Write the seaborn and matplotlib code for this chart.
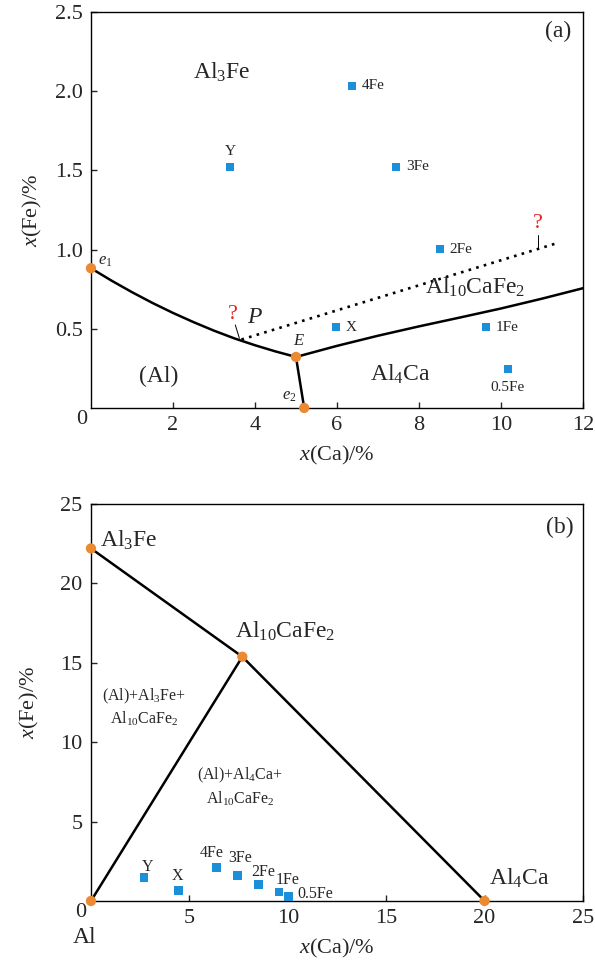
import matplotlib
matplotlib.use('Agg')
import matplotlib.pyplot as plt
import seaborn as sns

# ---- panel (a): liquidus projection near the Al corner ----
liq_e1E_ca = [0.0, 0.5, 1.0, 1.5, 2.0, 2.5, 3.0, 3.5, 4.0, 4.5, 5.0]
liq_e1E_fe = [0.882, 0.804, 0.731, 0.663, 0.600, 0.542, 0.488, 0.439, 0.396, 0.357, 0.322]
liq_Ee2_ca = [5.0, 5.2]
liq_Ee2_fe = [0.322, 0.0]
liq_E_right_ca = [5.0, 6.0, 7.0, 8.0, 9.0, 10.0, 11.0, 12.0]
liq_E_right_fe = [0.322, 0.392, 0.456, 0.515, 0.571, 0.628, 0.690, 0.756]
dotted_ca = [3.67, 11.36]
dotted_fe = [0.432, 1.04]
special_a = ['e1', 'E', 'e2']
special_a_ca = [0.0, 5.0, 5.2]
special_a_fe = [0.882, 0.322, 0.0]

alloys_a = ['Y', '4Fe', '3Fe', '2Fe', 'X', '1Fe', '0.5Fe']
alloys_a_ca = [3.39, 6.37, 7.44, 8.51, 5.98, 9.63, 10.17]
alloys_a_fe = [1.523, 2.033, 1.523, 1.002, 0.509, 0.509, 0.246]

# ---- panel (b): Al-rich corner of Al-Ca-Fe ----
phases_b = ['Al', 'Al3Fe', 'Al10CaFe2', 'Al4Ca']
phases_b_ca = [0.0, 0.0, 7.69, 20.0]
phases_b_fe = [0.0, 22.2, 15.38, 0.0]
tie1_ca = [0.0, 7.69, 20.0]     # Al3Fe - Al10CaFe2 - Al4Ca
tie1_fe = [22.2, 15.38, 0.0]
tie2_ca = [0.0, 7.69]           # Al - Al10CaFe2
tie2_fe = [0.0, 15.38]

alloys_b = ['Y', 'X', '4Fe', '3Fe', '2Fe', '1Fe', '0.5Fe']
alloys_b_ca = [2.69, 4.44, 6.39, 7.45, 8.50, 9.55, 10.04]
alloys_b_fe = [1.49, 0.65, 2.09, 1.59, 1.03, 0.57, 0.27]

xticks_a = [2, 4, 6, 8, 10, 12]
yticks_a = [0.5, 1.0, 1.5, 2.0, 2.5]
xticks_b = [5, 10, 15, 20, 25]
yticks_b = [5, 10, 15, 20, 25]

BLUE = '#1b8fd9'
ORANGE = '#ec8a32'
RED = '#e8231d'

sns.set_style('ticks')
plt.rcParams['font.family'] = ['Liberation Serif', 'DejaVu Serif']
plt.rcParams['mathtext.fontset'] = 'custom'
plt.rcParams['mathtext.rm'] = 'Liberation Serif'
plt.rcParams['mathtext.it'] = 'Liberation Serif:italic'
plt.rcParams['axes.linewidth'] = 1.0
plt.rcParams['axes.edgecolor'] = 'black'

fig = plt.figure(figsize=(5.95, 9.64), dpi=100)
ax1 = fig.add_axes([0.1529, 0.5768, 0.8269, 0.4108])
ax2 = fig.add_axes([0.1529, 0.0654, 0.8269, 0.4118])


def line(ax, xs, ys, **kw):
    sns.lineplot(x=xs, y=ys, ax=ax, sort=False, estimator=None,
                 color='black', legend=False, **kw)


# ---------------- panel (a) ----------------
line(ax1, liq_e1E_ca, liq_e1E_fe, linewidth=1.8)
line(ax1, liq_Ee2_ca, liq_Ee2_fe, linewidth=1.8)
line(ax1, liq_E_right_ca, liq_E_right_fe, linewidth=1.8)
ax1.plot(dotted_ca, dotted_fe, color='black', linestyle=(0, (1, 2.0)), linewidth=1.9)

sns.scatterplot(x=special_a_ca, y=special_a_fe, ax=ax1, color=ORANGE, s=55,
                edgecolor='none', zorder=5, clip_on=False)
sns.scatterplot(x=alloys_a_ca, y=alloys_a_fe, ax=ax1, color=BLUE, marker='s', s=32,
                edgecolor='none', zorder=5)

lab_a = {'Y': (0, 11, 'center'), '4Fe': (7, 0, 'left'), '3Fe': (7, 0, 'left'),
         '2Fe': (7, 0, 'left'), 'X': (7, 0, 'left'), '1Fe': (7, 0, 'left'),
         '0.5Fe': (0, -13, 'center')}
for name, cx, fy in zip(alloys_a, alloys_a_ca, alloys_a_fe):
    dx, dy, ha = lab_a[name]
    ax1.annotate(name, (cx, fy), xytext=(dx, dy), textcoords='offset points',
                 ha=ha, va='center', fontsize=11)

ax1.text(0.34, 0.925, '$e_1$', fontsize=12, ha='center', va='center')
ax1.text(5.07, 0.42, '$E$', fontsize=12, ha='center', va='center')
ax1.text(4.83, 0.076, '$e_2$', fontsize=12, ha='center', va='center')
ax1.text(4.0, 0.57, '$P$', fontsize=17, ha='center', va='center')

ax1.text(3.47, 0.59, '?', color=RED, fontsize=16, ha='center', va='center')
ax1.plot([3.52, 3.62], [0.524, 0.44], color='black', linewidth=0.7)
ax1.text(10.91, 1.166, '?', color=RED, fontsize=16, ha='center', va='center')
ax1.plot([10.91, 10.91], [1.092, 1.005], color='black', linewidth=0.7)

ax1.text(3.2, 2.12, 'Al$_3$Fe', fontsize=17, ha='center', va='center')
ax1.text(1.64, 0.20, '(Al)', fontsize=17, ha='center', va='center')
ax1.text(7.54, 0.21, 'Al$_4$Ca', fontsize=17, ha='center', va='center')
ax1.text(9.37, 0.76, 'Al$_{10}$CaFe$_2$', fontsize=17, ha='center', va='center')
ax1.text(11.4, 2.38, '(a)', fontsize=17, ha='center', va='center')

ax1.set_xlim(0, 12)
ax1.set_ylim(0, 2.5)
ax1.set_xticks(xticks_a)
ax1.set_yticks(yticks_a)
ax1.set_yticklabels([f'{v:.1f}' for v in yticks_a])
ax1.annotate('0', (0, 0), xytext=(-7, -8), textcoords='offset points',
             ha='center', va='center', fontsize=16, annotation_clip=False)
ax1.set_xlabel('$x$(Ca)/%', fontsize=16, labelpad=6)
ax1.set_ylabel('$x$(Fe)/%', fontsize=16, labelpad=8)

# ---------------- panel (b) ----------------
line(ax2, tie1_ca, tie1_fe, linewidth=1.8)
line(ax2, tie2_ca, tie2_fe, linewidth=1.8)
sns.scatterplot(x=phases_b_ca, y=phases_b_fe, ax=ax2, color=ORANGE, s=55,
                edgecolor='none', zorder=5, clip_on=False)
sns.scatterplot(x=alloys_b_ca, y=alloys_b_fe, ax=ax2, color=BLUE, marker='s', s=40,
                edgecolor='none', zorder=5)

lab_b = {'Y': (2.9, 7.6), 'X': (-1, 10.6), '4Fe': (-3.6, 10.4), '3Fe': (1.7, 12.5),
         '2Fe': (3.6, 9.4), '1Fe': (6.2, 8.6), '0.5Fe': (19.5, 1.8)}
for name, cx, fy in zip(alloys_b, alloys_b_ca, alloys_b_fe):
    dx, dy = lab_b[name]
    ax2.annotate(name, (cx, fy), xytext=(dx, dy), textcoords='offset points',
                 ha='center', va='center', fontsize=11.5)

ax2.text(1.9, 22.7, 'Al$_3$Fe', fontsize=17, ha='center', va='center')
ax2.text(9.86, 17.0, 'Al$_{10}$CaFe$_2$', fontsize=17, ha='center', va='center')
ax2.text(21.76, 1.42, 'Al$_4$Ca', fontsize=17, ha='center', va='center')
ax2.text(2.69, 12.2, '(Al)+Al$_3$Fe+\nAl$_{10}$CaFe$_2$', fontsize=11.5,
         ha='center', va='center', linespacing=1.3)
ax2.text(7.57, 7.18, '(Al)+Al$_4$Ca+\nAl$_{10}$CaFe$_2$', fontsize=11.5,
         ha='center', va='center', linespacing=1.3)
ax2.text(23.8, 23.5, '(b)', fontsize=17, ha='center', va='center')

ax2.set_xlim(0, 25)
ax2.set_ylim(0, 25)
ax2.set_xticks(xticks_b)
ax2.set_yticks(yticks_b)
ax2.annotate('0', (0, 0), xytext=(-7.5, -8.6), textcoords='offset points',
             ha='center', va='center', fontsize=16, annotation_clip=False)
ax2.annotate('Al', (0, 0), xytext=(-4.3, -26.6), textcoords='offset points',
             ha='center', va='center', fontsize=17, annotation_clip=False)
ax2.set_xlabel('$x$(Ca)/%', fontsize=16, labelpad=6)
ax2.set_ylabel('$x$(Fe)/%', fontsize=16, labelpad=14)

for ax in (ax1, ax2):
    for s in ax.spines.values():
        s.set_visible(True)
        s.set_linewidth(1.0)
    ax.tick_params(direction='in', length=4, width=1.0, labelsize=16, pad=6,
                   top=False, right=False)

fig.savefig('out.png', dpi=100)
